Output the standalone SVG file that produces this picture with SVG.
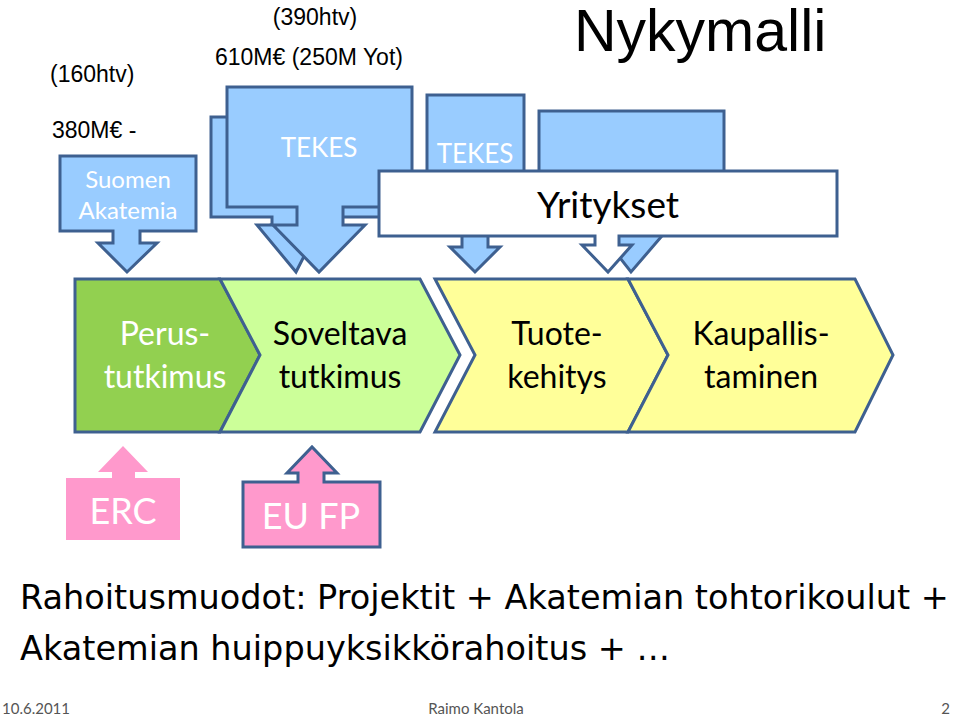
<svg xmlns="http://www.w3.org/2000/svg" width="960" height="718" viewBox="0 0 960 718">
<style>
.b{fill:#99CCFF;stroke:#3E6090;stroke-width:3;stroke-linejoin:miter}
.c{stroke:#3E6090;stroke-width:3}
.a{font-family:"Liberation Sans",Arial,sans-serif;fill:#000}
.l{font-family:Lato,"Open Sans",sans-serif;text-anchor:middle}
.w{fill:#fff}
.v{font-family:"DejaVu Sans",Verdana,sans-serif;font-size:33.5px;fill:#000}
.f{font-family:Lato,sans-serif;font-size:15px;fill:#555}
</style>
<rect width="960" height="718" fill="#fff"/>
<text class="a" x="50" y="82" font-size="23">(160htv)</text>
<text class="a" x="52" y="138" font-size="23">380M€ -</text>
<text class="a" x="315" y="25" font-size="23" text-anchor="middle">(390htv)</text>
<text class="a" x="215" y="65" font-size="23">610M€ (250M Yot)</text>
<text class="a" x="574" y="51" font-size="59">Nykymalli</text>
<g id="suomen">
<path class="b" d="M60,156H196V231H140V243H157L127,272L98,243H113V231H60Z"/>
<text class="l w" x="128" y="188" font-size="24">Suomen</text>
<text class="l w" x="128" y="219" font-size="24">Akatemia</text>
</g>
<g id="tekes-back">
<path class="b" d="M211,117H395V217H320V225H320L296,272L257,225H272V217H211Z"/>
</g>
<g id="tekes1">
<path class="b" d="M227,87H412V207H343V225H365L319,272L273,225H297V207H227Z"/>
<text class="l w" x="319" y="157" font-size="26">TEKES</text>
</g>
<g id="tekes2">
<path class="b" d="M427,95H524V210H488V247H500L475,272L450,247H462V210H427Z"/>
<text class="l w" x="475" y="163" font-size="26">TEKES</text>
</g>
<g id="blue3">
<path class="b" d="M539,111H724V230H667L631,272L610,245H600V230H539Z"/>
</g>
<g id="yritykset">
<path class="c" fill="#fff" d="M379,171H837V236H619V245H632L608,272L582,245H595V236H379Z"/>
<text class="l" x="608" y="218" font-size="37" fill="#000">Yritykset</text>
</g>
<g id="perus">
<path class="c" fill="#92D050" d="M75,279H220L260,355L220,432H75Z"/>
<text class="l w" x="165" y="345" font-size="32">Perus-</text>
<text class="l w" x="165" y="388" font-size="32">tutkimus</text>
</g>
<g id="soveltava">
<path class="c" fill="#CCFF99" d="M220,279H420L460,355L420,432H220L260,355Z"/>
<text class="l" x="340" y="345" font-size="32">Soveltava</text>
<text class="l" x="340" y="388" font-size="32">tutkimus</text>
</g>
<g id="tuote">
<path class="c" fill="#FFFF99" d="M435,279H628L668,355L628,432H435L475,355Z"/>
<text class="l" x="557" y="345" font-size="32">Tuote-</text>
<text class="l" x="557" y="388" font-size="32">kehitys</text>
</g>
<g id="kaupallis">
<path class="c" fill="#FFFF99" d="M628,279H855L893,355L855,432H628L668,355Z"/>
<text class="l" x="761" y="345" font-size="32">Kaupallis-</text>
<text class="l" x="761" y="388" font-size="32">taminen</text>
</g>
<g id="erc">
<path fill="#FF99CC" d="M66,478H180V540H66ZM112,478V472H98L123,446L148,472H135V478Z"/>
<text class="l w" x="123" y="524" font-size="36">ERC</text>
</g>
<g id="eufp">
<path class="c" fill="#FF99CC" d="M243,482H298V473H287L312,447L337,473H324V482H380V547H243Z"/>
<text class="l w" x="311" y="529" font-size="36">EU FP</text>
</g>
<text class="v" x="20" y="609">Rahoitusmuodot: Projektit + Akatemian tohtorikoulut +</text>
<text class="v" x="20" y="660">Akatemian huippuyksikkörahoitus + …</text>
<text class="f" x="2" y="714">10.6.2011</text>
<text class="f" x="476" y="714" text-anchor="middle">Raimo Kantola</text>
<text class="f" x="950" y="714" text-anchor="end">2</text>
</svg>
